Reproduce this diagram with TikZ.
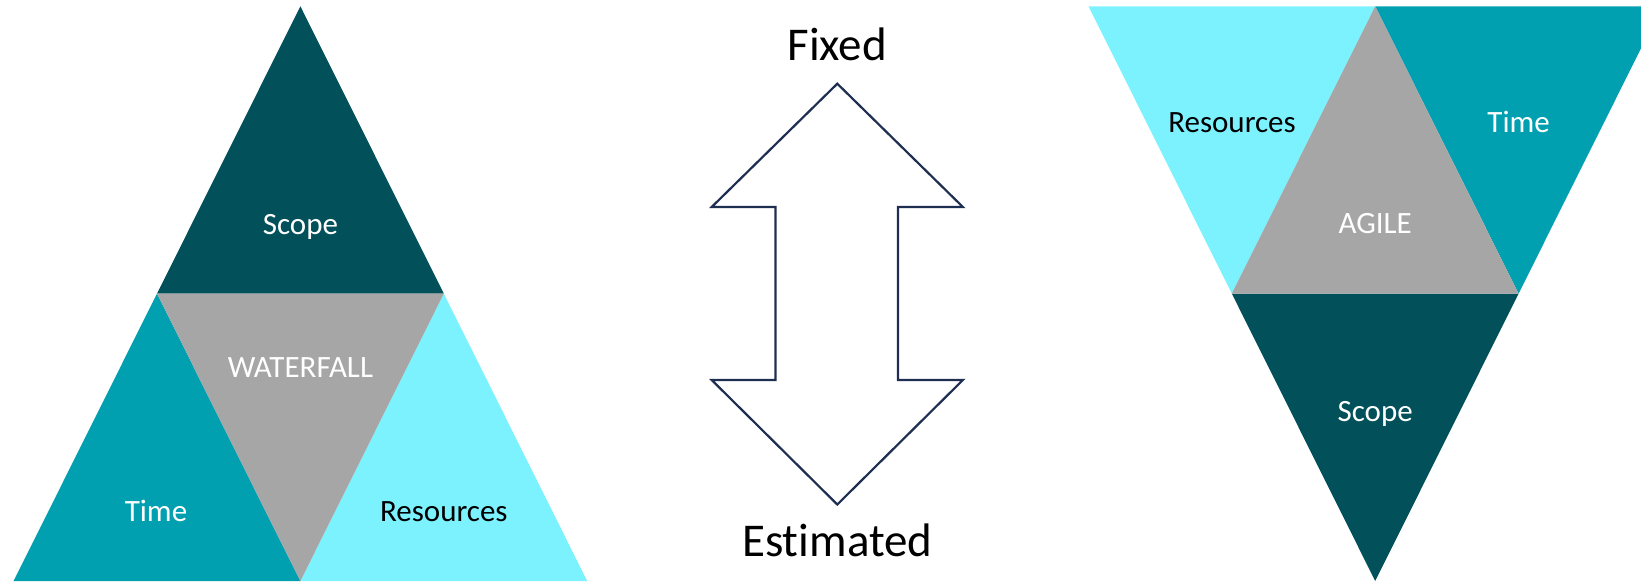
\documentclass[tikz,border=0pt]{standalone}
\usepackage{fontspec}
\setmainfont[Ligatures=NoCommon]{Carlito}
\definecolor{scopecol}{HTML}{02505A}
\definecolor{timecol}{HTML}{00A0B1}
\definecolor{rescol}{HTML}{7CF2FF}
\definecolor{midcol}{HTML}{A6A6A6}
\definecolor{arrowcol}{HTML}{1F2F52}
\begin{document}
\begin{tikzpicture}[x=1pt,y=-1pt,
  lbl/.style={anchor=base,inner sep=0pt,font=\fontsize{31}{36}\selectfont},
  wlbl/.style={lbl,text=white},
  big/.style={anchor=base,inner sep=0pt,font=\fontsize{47}{52}\selectfont},
  outline/.style={draw=arrowcol,line width=2.2pt,fill=white,line join=miter}]
\useasboundingbox (0,0) rectangle (1641,583);
\clip (0,0) rectangle (1641,583);

% waterfall pyramid
\coordinate (wA) at (300.4,6.3);
\coordinate (wBL) at (13.6,581);
\coordinate (wBR) at (587.2,581);
\coordinate (wBM) at (300.4,581);
\coordinate (wML) at (157,293.6);
\coordinate (wMR) at (443.8,293.6);
\fill[scopecol] (wA) -- (wMR) -- (wML) -- cycle;
\fill[timecol] (wML) -- (wBM) -- (wBL) -- cycle;
\fill[rescol] (wMR) -- (wBR) -- (wBM) -- cycle;
\fill[midcol] (wML) -- (wMR) -- (wBM) -- cycle;
\node[wlbl] (wscope) at (300.4,234) {Scope};
\node[wlbl] (wname) at (300.4,377) {WATERFALL};
\node[wlbl] (wtime) at (156,521) {Time};
\node[lbl] (wres) at (443.8,521) {Resources};

% double arrow between the two models
\coordinate (aT) at (837.3,83.7);
\coordinate (aB) at (837.3,504.5);
\draw[outline] (aT) -- (962.9,207) -- (898,207) -- (898,380) -- (962.9,380)
  -- (aB) -- (711.7,380) -- (775.5,380) -- (775.5,207) -- (711.7,207) -- cycle;
\node[big] (fixed) at (837.3,60.5) {Fixed};
\node[big] (est) at (837.3,556) {Estimated};

% agile pyramid, upside down
\coordinate (gTL) at (1088.5,6.3);
\coordinate (gTM) at (1375.2,6.3);
\coordinate (gTR) at (1662,6.3);
\coordinate (gB) at (1375.2,581);
\coordinate (gML) at (1231.8,293.6);
\coordinate (gMR) at (1518.6,293.6);
\fill[rescol] (gTL) -- (gTM) -- (gML) -- cycle;
\fill[timecol] (gTM) -- (gTR) -- (gMR) -- cycle;
\fill[scopecol] (gML) -- (gMR) -- (gB) -- cycle;
\fill[midcol] (gTM) -- (gMR) -- (gML) -- cycle;
\node[lbl] (gres) at (1232,133) {Resources};
\node[wlbl] (gtime) at (1518.6,133) {Time};
\node[wlbl] (gname) at (1375.2,233) {AGILE};
\node[wlbl] (gscope) at (1375.2,421) {Scope};
\end{tikzpicture}
\end{document}
